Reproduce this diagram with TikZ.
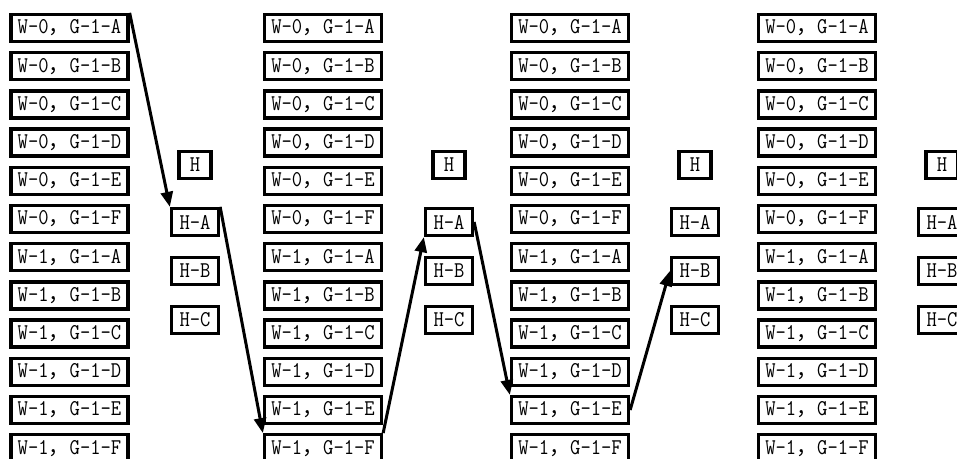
\documentclass[tikz,border=0pt]{standalone}
\usepackage{fontspec}
\setmonofont[FakeStretch=0.89]{Latin Modern Mono}
\newfontfamily\cjk{Noto Sans CJK SC}
\usepackage{tikz}
\usetikzlibrary{arrows.meta}

\begin{document}
\begin{tikzpicture}[x=1pt,y=-1pt,>={Triangle[length=15pt,width=12pt]},
      wbox/.style={draw,line width=3.3pt,minimum width=117pt,minimum height=27pt,
                   inner sep=0pt,font=\ttfamily\fontsize{22.5}{23}\selectfont},
      hbox/.style={wbox,minimum width=47pt},
      link/.style={->,line width=3pt}]
    \useasboundingbox (0,0) rectangle (957,458);
    \clip (0,0) rectangle (957,458);
    \foreach \c/\wx/\hx in {1/69.5/195,2/323/449,3/570/695,4/817/942}{
      \foreach \r/\w/\g in {1/0/A,2/0/B,3/0/C,4/0/D,5/0/E,6/0/F,
                            7/1/A,8/1/B,9/1/C,10/1/D,11/1/E,12/1/F}
        \node[wbox] (w\c-\r) at (\wx,{28+38.2*(\r-1)}) {W-\w{\cjk\fontsize{21}{23}\selectfont ，}G-1-\g};
      \node[hbox,minimum width=32pt] (h\c) at (\hx,165) {H};
      \node[hbox] (h\c-a) at (\hx,222) {H-A};
      \node[hbox] (h\c-b) at (\hx,271) {H-B};
      \node[hbox] (h\c-c) at (\hx,320) {H-C};
    }
    \draw[link] (w1-1.north east) -- (h1-a.north west);
    \draw[link] (h1-a.north east) -- (w2-12.north west);
    \draw[link] (w2-12.north east) -- (h2-a.south west);
    \draw[link] (h2-a.east) -- (w3-11.north west);
    \draw[link] (w3-11.east) -- (h3-b.west);
  \end{tikzpicture}
\end{document}
